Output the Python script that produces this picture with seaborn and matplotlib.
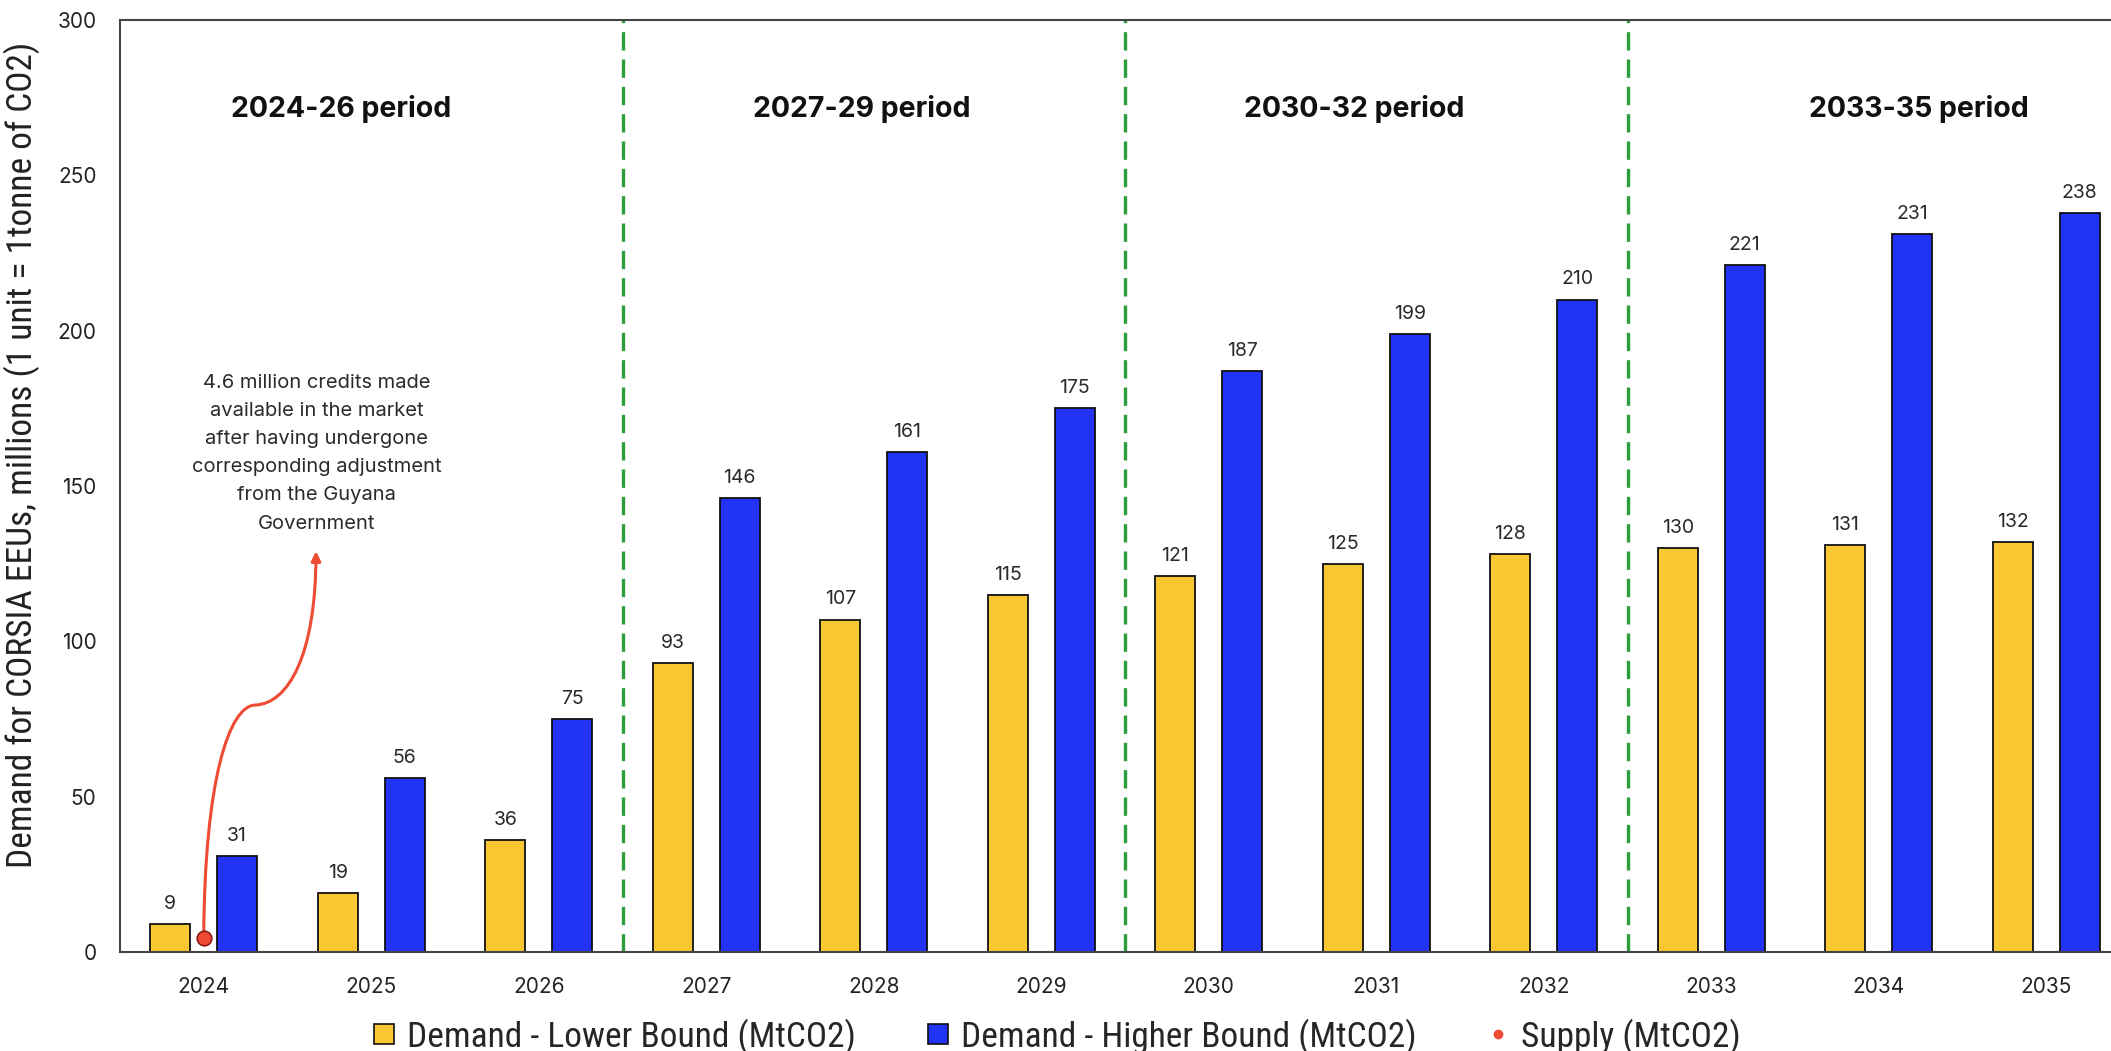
import matplotlib
matplotlib.use("Agg")
import matplotlib.pyplot as plt
import seaborn as sns
import pandas as pd
from matplotlib.lines import Line2D
from matplotlib.patches import FancyArrowPatch
from matplotlib.path import Path
from matplotlib import font_manager

# ---------------- data ----------------
years = ['2024', '2025', '2026', '2027', '2028', '2029',
         '2030', '2031', '2032', '2033', '2034', '2035']
lower_bound = [9, 19, 36, 93, 107, 115, 121, 125, 128, 130, 131, 132]
higher_bound = [31, 56, 75, 146, 161, 175, 187, 199, 210, 221, 231, 238]
supply_year = '2024'
supply_value = 4.6
periods = ['2024-26 period', '2027-29 period', '2030-32 period', '2033-35 period']
series_names = ['Demand - Lower Bound (MtCO2)', 'Demand - Higher Bound (MtCO2)']
supply_name = 'Supply (MtCO2)'
note = ("4.6 million credits made\navailable in the market\nafter having undergone\n"
        "corresponding adjustment\nfrom the Guyana\nGovernment")

# ---------------- style ----------------
sns.set_style("white")
available = {f.name for f in font_manager.fontManager.ttflist}
main_font = [f for f in ['Inter', 'Roboto', 'DejaVu Sans'] if f in available]
narrow_font = [f for f in ['Liberation Sans Narrow', 'Roboto Condensed', 'Liberation Sans', 'DejaVu Sans'] if f in available]
plt.rcParams['font.family'] = main_font

yellow = '#F9C732'
blue = '#2233F8'
green = '#2E9E3C'
red = '#EE4B35'

df = pd.DataFrame({
    'Year': years * 2,
    'Value': lower_bound + higher_bound,
    'Series': [series_names[0]] * len(years) + [series_names[1]] * len(years),
})

fig = plt.figure(figsize=(21.11, 10.51), dpi=100)
ax = fig.add_axes([120 / 2111, 99 / 1051, 2010 / 2111, 932 / 1051])

sns.barplot(data=df, x='Year', y='Value', hue='Series', order=years,
            hue_order=series_names, palette=[yellow, blue], saturation=1,
            edgecolor='#111111', linewidth=1.3, gap=0.4, legend=False,
            ax=ax, errorbar=None)

for cont in ax.containers:
    ax.bar_label(cont, padding=8, fontsize=14, color='#2a2a2a')

# supply point
sx = years.index(supply_year)
ax.scatter([sx], [supply_value], s=110, color=red, edgecolor='#8B1A10',
           linewidth=1.2, zorder=5)

# period dividers
for xv in [2.5, 5.5, 8.5]:
    ax.axvline(xv, color=green, linewidth=2.4, linestyle=(0, (5.5, 2.7)), zorder=1)

# period titles
period_x = [0.82, 3.93, 6.87, 10.24]
for px, lab in zip(period_x, periods):
    ax.text(px, 271.5, lab, ha='center', va='center', fontsize=20.5,
            fontweight='bold', color='#111111')

# curved annotation arrow
verts = [(sx, supply_value + 0.5), (sx + 0.005, 55), (sx + 0.15, 79.5), (sx + 0.31, 79.5),
         (sx + 0.50, 80), (sx + 0.67, 95), (sx + 0.67, 129)]
codes = [Path.MOVETO, Path.CURVE4, Path.CURVE4, Path.CURVE4,
         Path.CURVE4, Path.CURVE4, Path.CURVE4]
arrow = FancyArrowPatch(path=Path(verts, codes), arrowstyle='-|>', mutation_scale=14,
                        color=red, linewidth=2.2, zorder=4)
ax.add_patch(arrow)
ax.text(sx + 0.675, 160.5, note, ha='center', va='center', fontsize=14.5,
        linespacing=1.72, color='#2b2b2b')

# axes
ax.set_xlim(-0.5, 11.5)
ax.set_ylim(0, 300)
ax.set_yticks(range(0, 301, 50))
ax.set_xlabel('')
ax.set_ylabel('Demand for CORSIA EEUs, millions (1 unit = 1tonne of CO2)',
              fontsize=25.5, family=narrow_font, color='#222222')
ax.yaxis.set_label_coords(-0.0398, 0.533)
ax.tick_params(axis='both', length=0, labelsize=15, colors='#222222')
ax.tick_params(axis='y', pad=17)
ax.tick_params(axis='x', pad=18)
for side in ['left', 'bottom', 'top']:
    ax.spines[side].set_visible(True)
    ax.spines[side].set_color('#444444')
    ax.spines[side].set_linewidth(1.5)
ax.spines['right'].set_visible(False)
ax.grid(False)

# legend
handles = [
    Line2D([], [], marker='s', linestyle='none', markersize=14,
           markerfacecolor=yellow, markeredgecolor='#111111', markeredgewidth=1.2),
    Line2D([], [], marker='s', linestyle='none', markersize=14,
           markerfacecolor=blue, markeredgecolor='#111111', markeredgewidth=1.2),
    Line2D([], [], marker='o', linestyle='none', markersize=6,
           markerfacecolor=red, markeredgecolor=red),
]
fig.legend(handles, series_names + [supply_name], loc='lower center',
           bbox_to_anchor=(0.5, -0.024), ncol=3, frameon=False,
           prop={'family': narrow_font, 'size': 25.5}, handlelength=0.8,
           handletextpad=0.25, columnspacing=1.9, borderpad=0.1)

fig.savefig('out.png', dpi=100)
